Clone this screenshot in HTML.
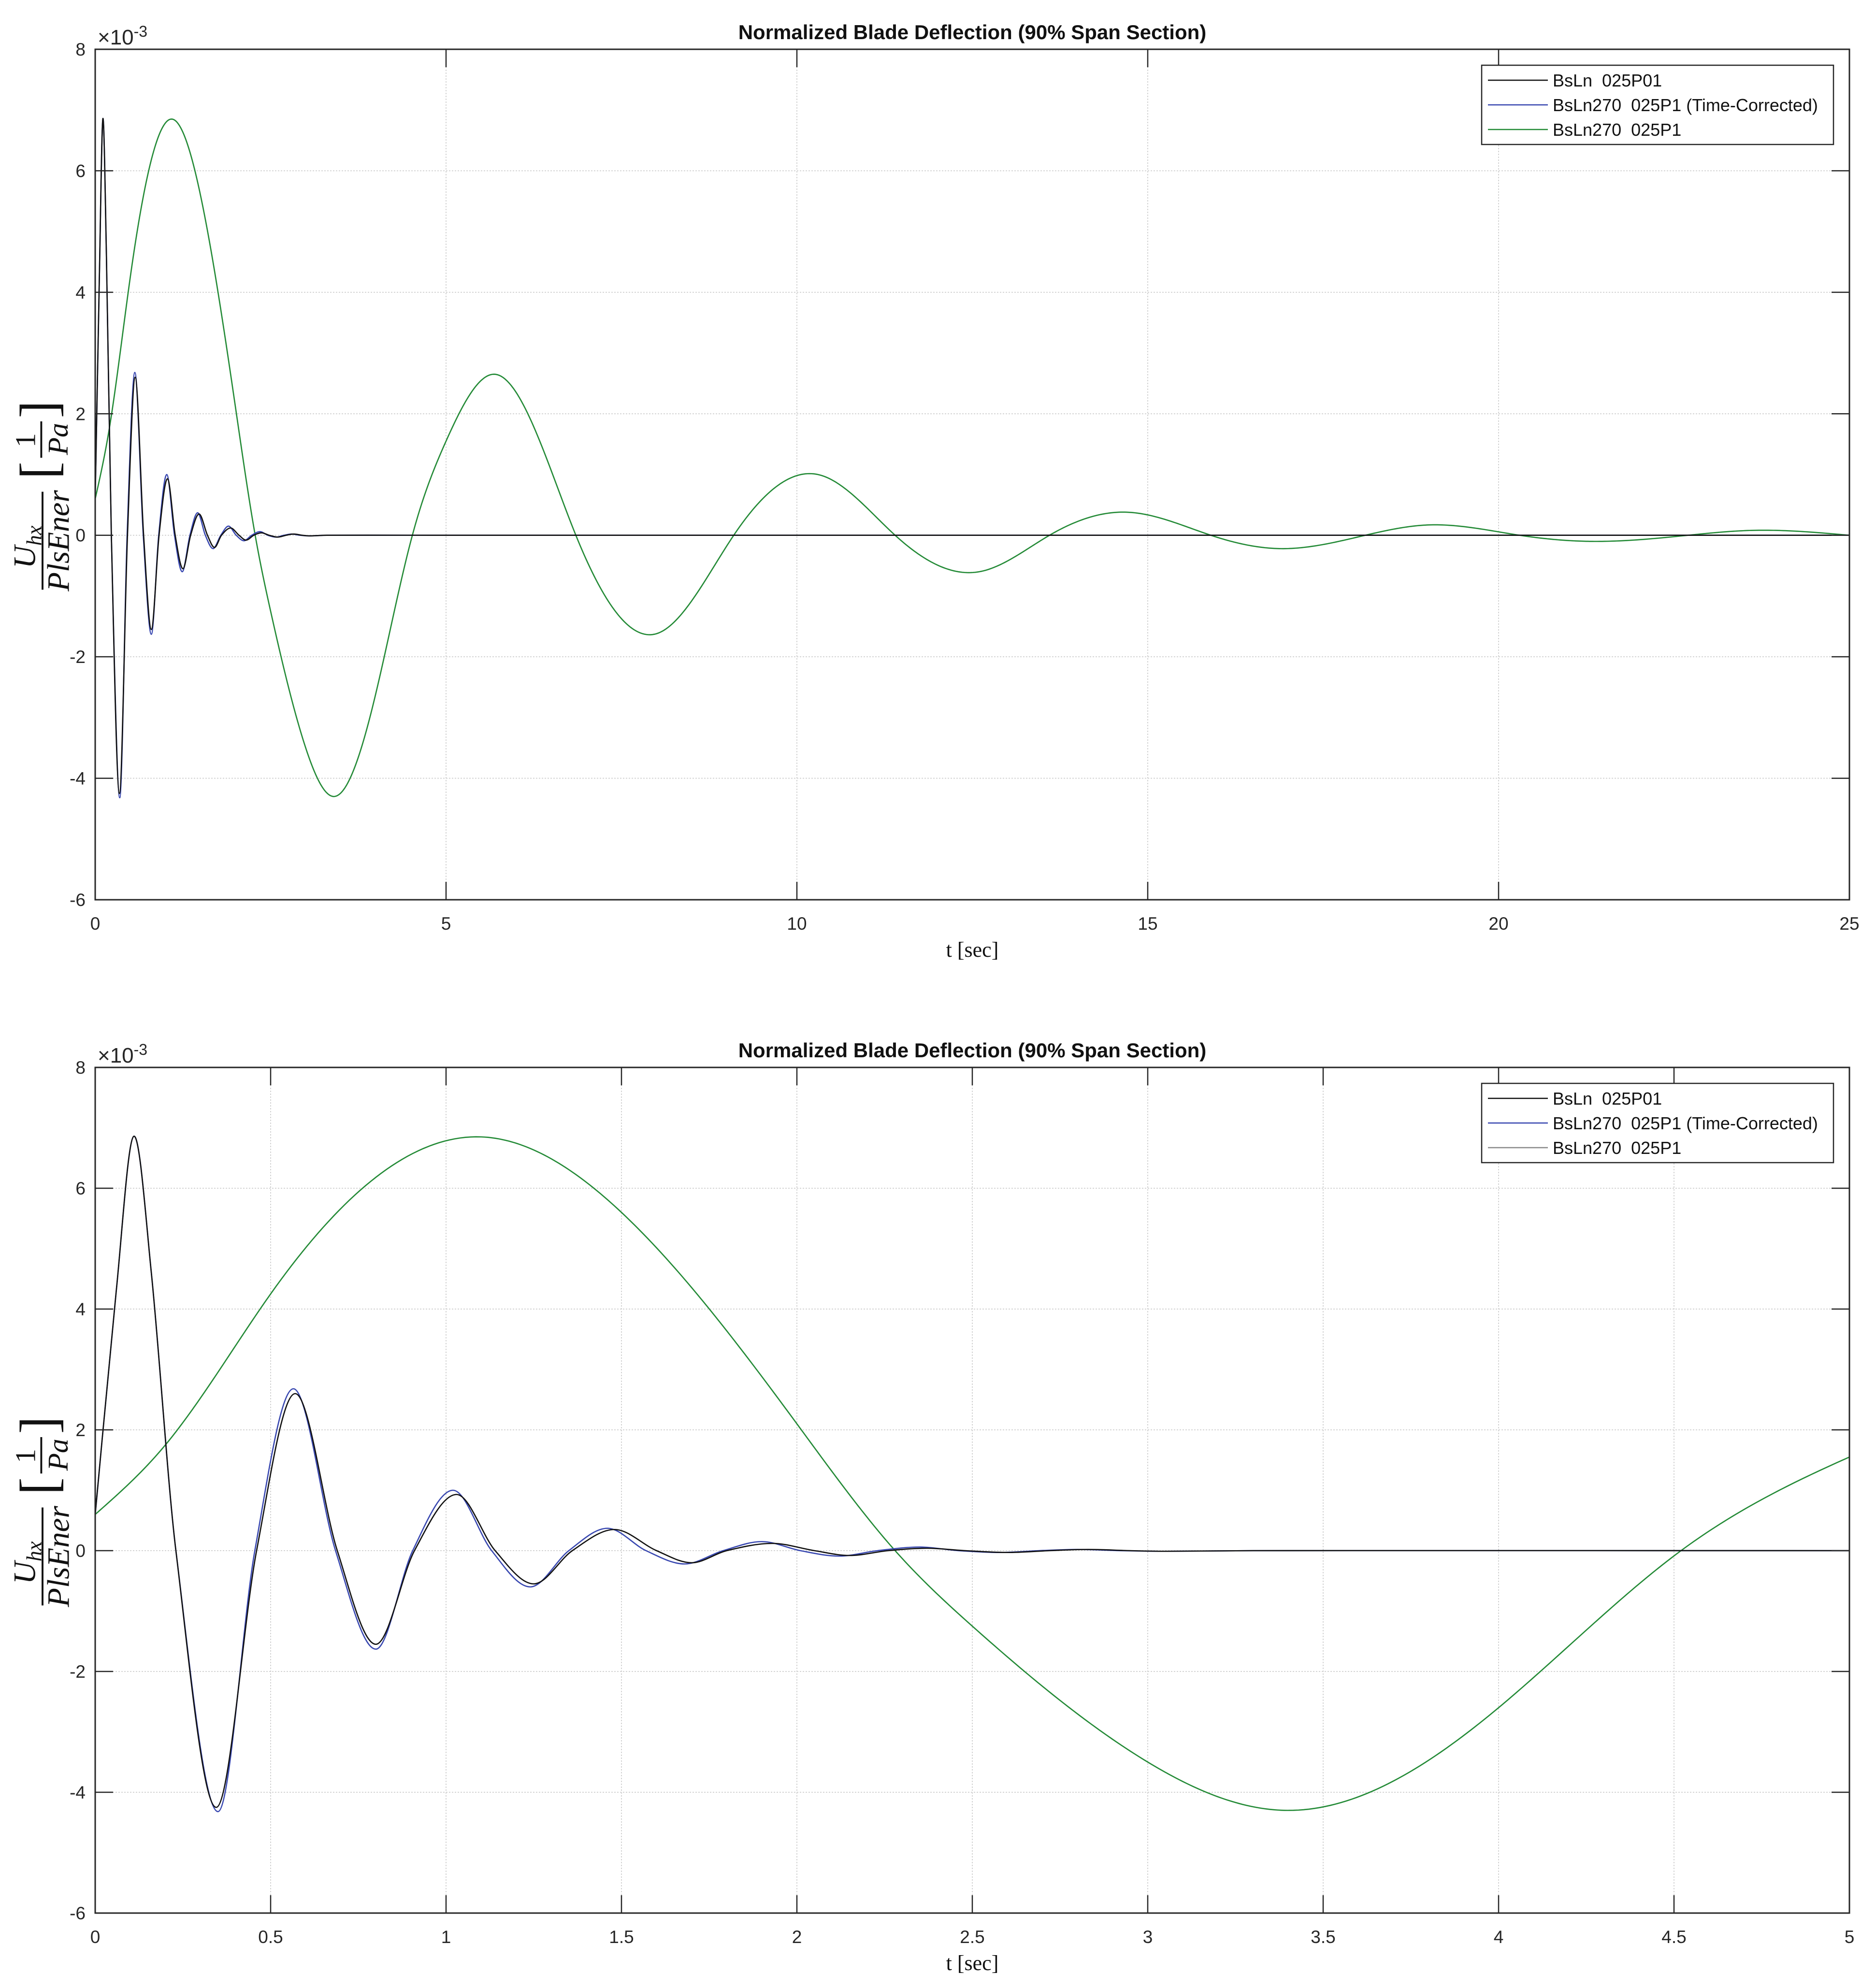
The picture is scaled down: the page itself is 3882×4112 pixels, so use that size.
<!DOCTYPE html>
<html><head><meta charset="utf-8"><style>
html,body{margin:0;padding:0;background:#fff;}
svg{display:block;}
</style></head><body>
<svg id="fig" width="3882" height="4112" xmlns="http://www.w3.org/2000/svg" font-family="Liberation Sans, sans-serif"></svg>
<script>
// ---- data (values in units of 1e-3) ----
const greenT = [0,0.2,0.5,1.1,1.5,2.0,2.28,2.5,3.0,3.4,4.0,4.52,5.0,5.7,6.85,8.0,9.1,10.3,11.4,12.6,13.6,14.7,15.9,16.9,18.1,19.0,20.3,21.3,22.7,23.6,25];
const greenV = [0.6,1.75,4.25,6.85,5.6,2.1,0,-1.25,-3.5,-4.3,-2.6,0,1.55,2.65,0,-1.62,0,1.0,0,-0.6,0,0.38,0,-0.22,0,0.17,0,-0.1,0,0.08,0];
const blackT = [0,0.06,0.11,0.16,0.23,0.345,0.46,0.57,0.69,0.8,0.91,1.03,1.14,1.25,1.36,1.48,1.6,1.7,1.8,1.93,2.05,2.15,2.26,2.37,2.48,2.6,2.72,2.83,2.95,3.05,3.3,5,25];
const blackV = [0.6,4.3,6.86,4.6,0,-4.25,0,2.6,0,-1.55,0,0.93,0,-0.55,0,0.35,0,-0.2,0,0.12,0,-0.08,0,0.04,0,-0.03,0,0.02,0,-0.01,0,0,0];
const blueT = [0,0.06,0.11,0.16,0.23,0.35,0.455,0.565,0.685,0.8,0.905,1.02,1.13,1.24,1.35,1.46,1.57,1.68,1.79,1.9,2.01,2.12,2.23,2.35,2.46,2.58,2.69,2.8,2.92,3.05,3.3,5,25];
const blueV = [0.6,4.3,6.86,4.6,0,-4.32,0,2.68,0,-1.63,0,1.0,0,-0.6,0,0.37,0,-0.22,0,0.15,0,-0.09,0,0.06,0,-0.03,0,0.02,0,-0.01,0,0,0];
const yTicks = [-6,-4,-2,0,2,4,6,8];
const xTicks1 = [0,5,10,15,20,25];
const xTicks2 = [0,0.5,1,1.5,2,2.5,3,3.5,4,4.5,5];
const xTickLabels2 = ['0','0.5','1','1.5','2','2.5','3','3.5','4','4.5','5'];
const legendLabels = ['BsLn  025P01','BsLn270  025P1 (Time-Corrected)','BsLn270  025P1'];

const NS='http://www.w3.org/2000/svg';
const svg=document.getElementById('fig');
function mk(tag,attrs,parent){const e=document.createElementNS(NS,tag);for(const k in attrs)e.setAttribute(k,attrs[k]);(parent||svg).appendChild(e);return e;}

function crPath(T,V,sx,sy){
  const n=T.length;let d='';
  for(let i=0;i<n-1;i++){
    const p0=i>0?i-1:i,p3=i+2<n?i+2:i+1;
    const x1=T[i],y1=V[i],x2=T[i+1],y2=V[i+1];
    const h=x2-x1;
    const m1=(V[i+1]-V[p0])/(T[i+1]-T[p0]);
    const m2=(V[p3]-V[i])/(T[p3]-T[i]);
    if(i===0) d+='M'+sx(x1).toFixed(2)+','+sy(y1).toFixed(2);
    d+='C'+sx(x1+h/3).toFixed(2)+','+sy(y1+m1*h/3).toFixed(2)+' '+sx(x2-h/3).toFixed(2)+','+sy(y2-m2*h/3).toFixed(2)+' '+sx(x2).toFixed(2)+','+sy(y2).toFixed(2);
  }
  return d;
}
function splinePath(T,V,sx,sy){
  const n=T.length,h=[],a=[],b=[],c=[],r=[],M=new Array(n).fill(0);
  for(let i=0;i<n-1;i++)h.push(T[i+1]-T[i]);
  for(let i=1;i<n-1;i++){a[i]=h[i-1];b[i]=2*(h[i-1]+h[i]);c[i]=h[i];r[i]=6*((V[i+1]-V[i])/h[i]-(V[i]-V[i-1])/h[i-1]);}
  for(let i=2;i<n-1;i++){const m=a[i]/b[i-1];b[i]-=m*c[i-1];r[i]-=m*r[i-1];}
  for(let i=n-2;i>=1;i--){M[i]=(r[i]-(i<n-2?c[i]*M[i+1]:0))/b[i];}
  let d='';
  for(let i=0;i<n-1;i++){
    const steps=40;
    for(let k=(i===0?0:1);k<=steps;k++){
      const t=T[i]+h[i]*k/steps;
      const A=(T[i+1]-t)/h[i],B=(t-T[i])/h[i];
      const v=A*V[i]+B*V[i+1]+((A*A*A-A)*M[i]+(B*B*B-B)*M[i+1])*h[i]*h[i]/6;
      d+=(d?'L':'M')+sx(t).toFixed(2)+','+sy(v).toFixed(2);
    }
  }
  return d;
}

function panel(idx,top,bottom,xmax,xTicks,xLabels,lastLegendColor){
  const L=197,R=3827;
  const sx=t=>L+(t/xmax)*(R-L);
  const sy=v=>bottom-(v+6)/14*(bottom-top);
  const g=mk('g',{});
  
  
  const cid='clip'+idx;
  const cp=mk('clipPath',{id:cid},g);mk('rect',{x:L,y:top,width:R-L,height:bottom-top},cp);
  xTicks.forEach(t=>{const l=mk('line',{x1:sx(t),x2:sx(t),y1:top,y2:bottom,stroke:'#d4d4d4','stroke-width':2,'stroke-dasharray':'3,3'},g);
    });
  yTicks.forEach(v=>{const l=mk('line',{x1:L,x2:R,y1:sy(v),y2:sy(v),stroke:'#d4d4d4','stroke-width':2,'stroke-dasharray':'3,3'},g);
    });
  const gp=mk('path',{d:splinePath(greenT,greenV,sx,sy),fill:'none',stroke:'#238a36','stroke-width':2.6,'clip-path':'url(#'+cid+')'},g);
  
  const up=mk('path',{d:crPath(blueT,blueV,sx,sy),fill:'none',stroke:'#3847b0','stroke-width':2.6,'clip-path':'url(#'+cid+')'},g);
  
  const bp=mk('path',{d:crPath(blackT,blackV,sx,sy),fill:'none',stroke:'#111111','stroke-width':2.6,'clip-path':'url(#'+cid+')'},g);
  
  const tk=37;
  xTicks.forEach((t,i)=>{mk('line',{x1:sx(t),x2:sx(t),y1:bottom,y2:bottom-tk,stroke:'#262626','stroke-width':2.5},g);
    mk('line',{x1:sx(t),x2:sx(t),y1:top,y2:top+tk,stroke:'#262626','stroke-width':2.5},g);
    const tx=mk('text',{x:sx(t),y:bottom+62,'font-size':37,fill:'#262626','text-anchor':'middle'},g);tx.textContent=xLabels[i];
    });
  yTicks.forEach(v=>{mk('line',{x1:L,x2:L+tk,y1:sy(v),y2:sy(v),stroke:'#262626','stroke-width':2.5},g);
    mk('line',{x1:R,x2:R-tk,y1:sy(v),y2:sy(v),stroke:'#262626','stroke-width':2.5},g);
    const tx=mk('text',{x:177,y:sy(v)+13,'font-size':37,fill:'#262626','text-anchor':'end'},g);tx.textContent=String(v);
    });
  const fr=mk('rect',{x:L,y:top,width:R-L,height:bottom-top,fill:'none',stroke:'#262626','stroke-width':3},g);
  
  const ex=mk('text',{x:202,y:top-10,'font-size':44,fill:'#262626'},g);
  ex.innerHTML='×10<tspan dy="-16" font-size="32">-3</tspan>';
  
  const ti=mk('text',{x:(L+R)/2,y:top-21,'font-size':42,'font-weight':'bold',fill:'#111','text-anchor':'middle'},g);
  ti.textContent='Normalized Blade Deflection (90% Span Section)';
  
  const xl=mk('text',{x:(L+R)/2,y:bottom+118,'font-size':44,fill:'#111','text-anchor':'middle','font-family':'Liberation Serif, serif'},g);
  xl.textContent='t [sec]';
  
  const cy=(top+bottom)/2;
  const yl=mk('g',{transform:'translate(88,'+(cy+20)+') rotate(-90) scale(1.3)','font-family':'Liberation Serif, serif','font-style':'italic',fill:'#111'},g);
  
  const num=mk('text',{x:-100,y:-12,'font-size':50,'text-anchor':'middle'},yl);num.innerHTML='U<tspan dy="10" font-size="34">hx</tspan>';
  mk('line',{x1:-168,x2:-12,y1:0,y2:0,stroke:'#111','stroke-width':3},yl);
  const den=mk('text',{x:-90,y:42,'font-size':50,'text-anchor':'middle'},yl);den.textContent='PlsEner';
  const b1=mk('text',{x:8,y:22,'font-size':84,'font-style':'normal'},yl);b1.textContent='[';
  const n1=mk('text',{x:70,y:-12,'font-size':46,'font-style':'normal','text-anchor':'middle'},yl);n1.textContent='1';
  mk('line',{x1:42,x2:100,y1:-2,y2:-2,stroke:'#111','stroke-width':3},yl);
  const d1=mk('text',{x:72,y:40,'font-size':46,'text-anchor':'middle'},yl);d1.textContent='Pa';
  const b2=mk('text',{x:105,y:22,'font-size':84,'font-style':'normal'},yl);b2.textContent=']';
  const lg=mk('g',{},g);
  
  const lt=top+33;
  mk('rect',{x:3066,y:lt,width:728,height:164,fill:'#fff',stroke:'#262626','stroke-width':2.5},lg);
  const cols=['#111111','#3847b0',lastLegendColor];
  legendLabels.forEach((lab,i)=>{
    const yy=lt+31+i*51;
    const e=mk('g',{},lg);
    
    mk('line',{x1:3079,x2:3203,y1:yy,y2:yy,stroke:cols[i],'stroke-width':2.6},e);
    const t=mk('text',{x:3213,y:yy+13,'font-size':36,fill:'#111'},e);t.style.whiteSpace='pre';t.textContent=lab;
  });
}
panel(1,102,1862,25,xTicks1,xTicks1.map(String),'#238a36');
panel(2,2209,3959,5,xTicks2,xTickLabels2,'#8a8a8a');
</script>
</body></html>
